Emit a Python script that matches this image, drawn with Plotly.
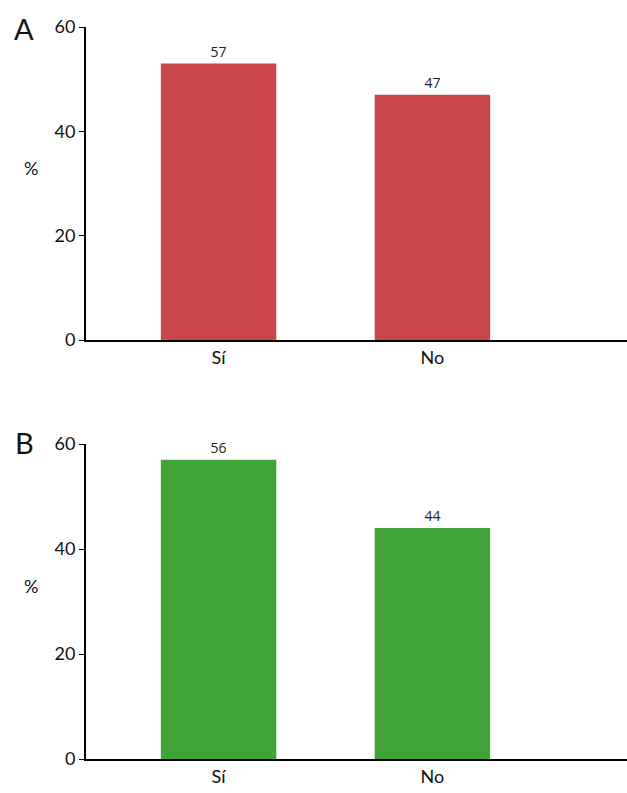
import plotly.graph_objects as go
from plotly.subplots import make_subplots

categories = ["Sí", "No"]
values_a = [53, 47]
labels_a = ["57", "47"]
values_b = [57, 44]
labels_b = ["56", "44"]
panel_names = ["A", "B"]
color_a = "#C9474A"
color_b = "#40A437"
y_ticks = [0, 20, 40, 60]

fig = make_subplots(rows=2, cols=1, vertical_spacing=0.1421)

for row, vals, labs, col in [(1, values_a, labels_a, color_a), (2, values_b, labels_b, color_b)]:
    fig.add_trace(go.Bar(
        x=categories, y=vals, text=labs, textposition="outside",
        textfont=dict(family="Open Sans", size=14, color="#222222"),
        marker=dict(color=col, line=dict(width=0)), width=0.54,
        cliponaxis=False, showlegend=False, hoverinfo="skip",
    ), row=row, col=1)

tickfont = dict(family="Lato", size=18, color="#111111")
for row in (1, 2):
    fig.update_xaxes(row=row, col=1, range=[-0.62, 1.91], showline=True, linecolor="black",
                     linewidth=2, ticks="", showgrid=False, zeroline=False, tickfont=tickfont,
                     fixedrange=True, automargin=False)
    fig.update_yaxes(row=row, col=1, range=[0, 60], tickvals=y_ticks, showline=True,
                     linecolor="black", linewidth=2, ticks="outside", ticklen=5, tickwidth=1,
                     tickcolor="black", showgrid=False, zeroline=False, tickfont=tickfont,
                     fixedrange=True, automargin=False)

fig.update_layout(
    width=627, height=793,
    margin=dict(l=86, r=0, t=27, b=34, autoexpand=False),
    plot_bgcolor="white", paper_bgcolor="white",
    yaxis=dict(domain=[0.5724, 1.0]),
    yaxis2=dict(domain=[0.0, 0.4303]),
    bargap=0.46,
)

for i, name in enumerate(panel_names):
    yref = "y domain" if i == 0 else "y2 domain"
    fig.add_annotation(text=name, xref="paper", yref=yref, x=0, y=1, xanchor="center",
                       yanchor="middle", xshift=-62, yshift=-1 if i == 0 else 2, showarrow=False,
                       font=dict(family="Lato", size=29, color="#111111"))
    fig.add_annotation(text="%", xref="paper", yref=yref, x=0, y=0.55, xanchor="center",
                       yanchor="middle", xshift=-55, showarrow=False,
                       font=dict(family="Lato", size=18, color="#111111"))

fig.write_html("out.html", config={"displayModeBar": False},
               post_script="document.body.style.margin='0';document.body.style.overflow='hidden';")
